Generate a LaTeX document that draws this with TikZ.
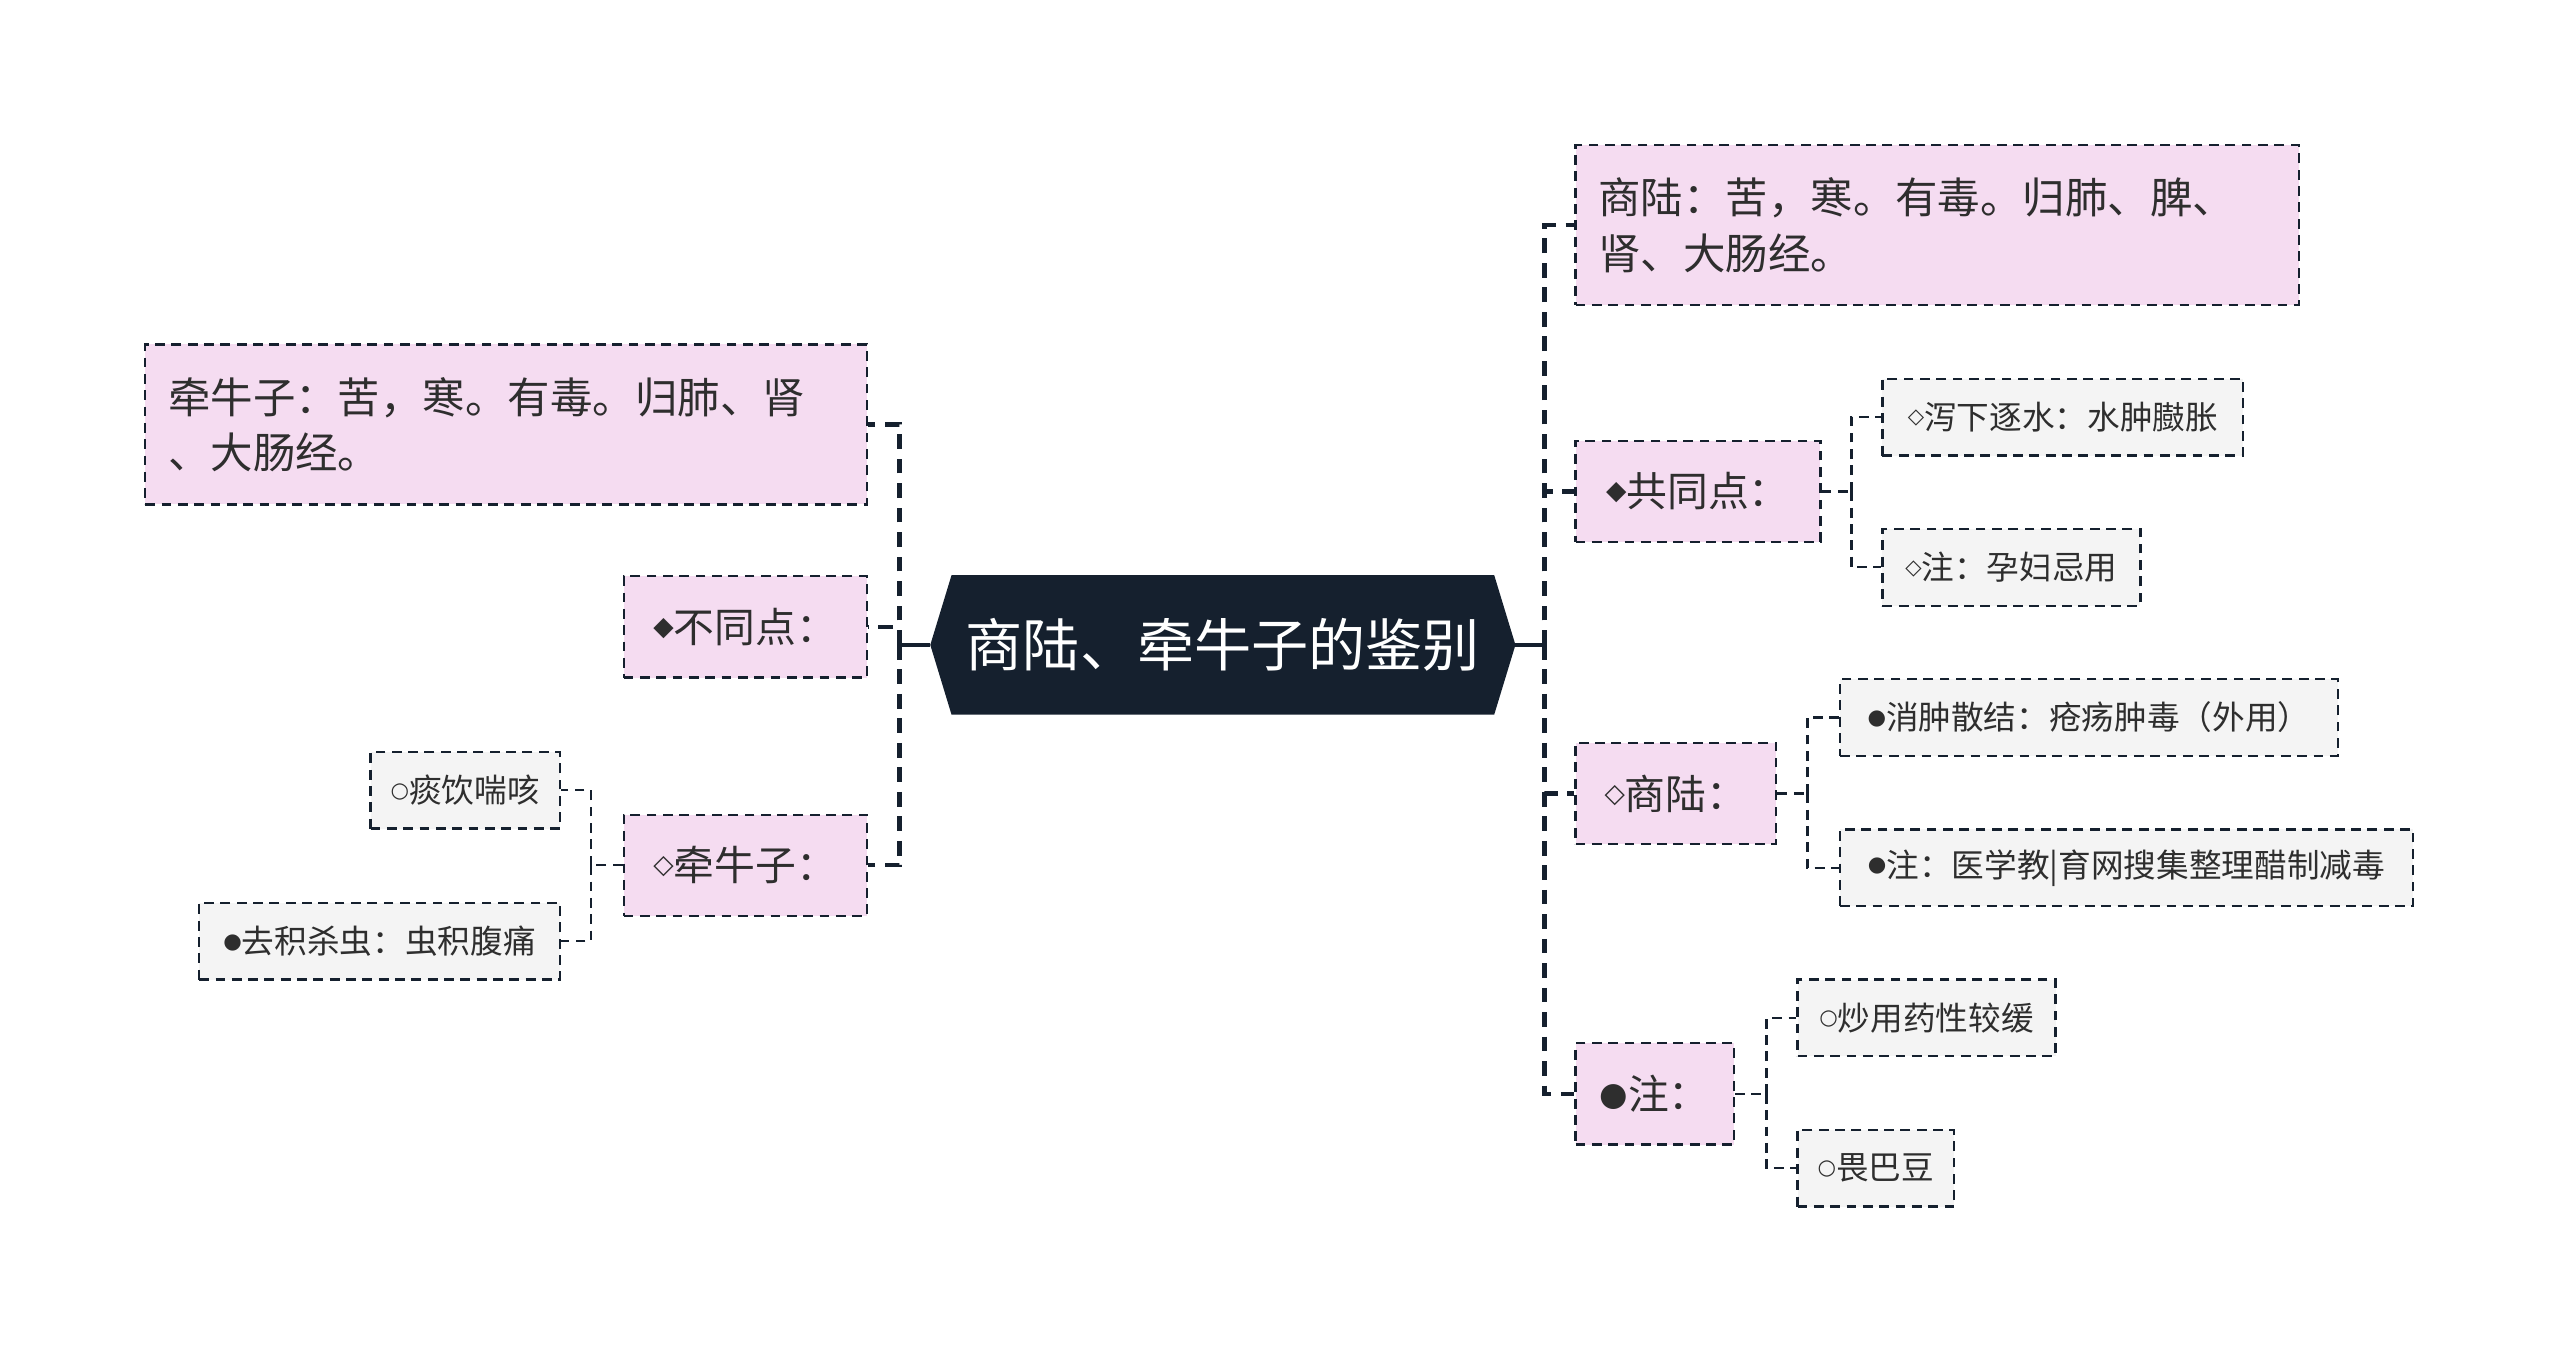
\documentclass[tikz,border=0pt]{standalone}
\usepackage{fontspec}
\usepackage{graphicx}
\setmainfont{Noto Sans CJK SC}
\newfontfamily\symf{DejaVu Sans}
\usetikzlibrary{backgrounds}
\definecolor{navy}{HTML}{15202E}
\definecolor{pinkf}{HTML}{F5DCF1}
\definecolor{grayf}{HTML}{F4F4F4}
\definecolor{txt}{HTML}{2E2E2E}
\newcommand\sy[3][0.65]{\raisebox{#2}{\symf\scalebox{#1}{#3}}}
\begin{document}
\begin{tikzpicture}[x=1pt,y=-1pt,
 box/.style={draw=navy, line width=1.4pt, dash pattern=on 6pt off 4pt, text=txt, inner sep=0pt, align=center},
 pinkbox/.style={box, fill=pinkf, minimum height=62pt, font=\fontsize{25}{30}\selectfont},
 bigbox/.style={box, fill=pinkf, minimum height=98pt, inner xsep=14pt, text width=414pt, align=left, font=\fontsize{26}{34}\selectfont},
 leaf/.style={box, fill=grayf, minimum height=47pt, font=\fontsize{20}{24}\selectfont},
 mainline/.style={draw=navy, line width=2.6pt, dash pattern=on 9pt off 6pt},
 subline/.style={draw=navy, line width=1.4pt, dash pattern=on 6pt off 4pt},
 rootline/.style={draw=navy, line width=2.6pt}]
\useasboundingbox (0,0) rectangle (1568,829);

% root
\node[minimum width=358pt, minimum height=85pt, inner sep=0pt, text=white,
      font=\fontsize{35}{42}\selectfont] (root) at (749,395) {商陆、牵牛子的鉴别};
\begin{scope}[on background layer]
\fill[navy] (root.west) -- ([xshift=13pt]root.north west) -- ([xshift=-13pt]root.north east)
  -- (root.east) -- ([xshift=-13pt]root.south east) -- ([xshift=13pt]root.south west) -- cycle;
\end{scope}

% left side
\node[bigbox] (A1) at (310,260) {牵牛子：苦，寒。有毒。归肺、肾\\、大肠经。};
\node[pinkbox, minimum width=149pt] (A2) at (456.5,384) {\sy{0.17em}{◆}不同点：};
\node[pinkbox, minimum width=149pt] (A3) at (456.5,530) {\sy{0.17em}{◇}牵牛子：};
\node[leaf, minimum width=116pt] (A31) at (285,484) {\sy{0.17em}{○}痰饮喘咳};
\node[leaf, minimum width=221pt] (A32) at (232.5,576.5) {\sy{0.17em}{●}去积杀虫：虫积腹痛};

% right side
\node[bigbox, text width=415pt] (B1) at (1186.5,138) {商陆：苦，寒。有毒。归肺、脾、\\肾、大肠经。};
\node[pinkbox, minimum width=150pt] (B2) at (1040,301) {\sy{0.17em}{◆}共同点：};
\node[leaf, minimum width=221pt] (B21) at (1263.5,255.5) {\sy{0.17em}{◇}泻下逐水：水肿臌胀};
\node[leaf, minimum width=158pt] (B22) at (1232,347.5) {\sy{0.17em}{◇}注：孕妇忌用};
\node[pinkbox, minimum width=123pt] (B3) at (1026.5,486) {\sy{0.17em}{◇}商陆：};
\node[leaf, minimum width=305pt] (B31) at (1279.5,439.5) {\sy{0.17em}{●}消肿散结：疮疡肿毒（外用）};
\node[leaf, minimum width=351pt] (B32) at (1302.5,531.5) {\sy{0.17em}{●}注：医学教|育网搜集整理醋制减毒};
\node[pinkbox, minimum width=97pt] (B4) at (1013.5,670) {\sy[0.8]{0.1em}{●}注：};
\node[leaf, minimum width=158pt] (B41) at (1180,623.5) {\sy{0.17em}{○}炒用药性较缓};
\node[leaf, minimum width=96pt] (B42) at (1149,715.5) {\sy{0.17em}{○}畏巴豆};

% trunks
\coordinate (LT) at (551,395);
\coordinate (RT) at (946,395);
\draw[rootline] (root.west) -- (LT);
\draw[rootline] (root.east) -- (RT);
\draw[mainline] (LT) |- (A1.east);
\draw[mainline] (LT) |- (A2.east);
\draw[mainline] (LT) |- (A3.east);
\draw[mainline] (RT) |- (B1.west);
\draw[mainline] (RT) |- (B2.west);
\draw[mainline] (RT) |- (B3.west);
\draw[mainline] (RT) |- (B4.west);

% sub trunks
\coordinate (A3s) at (362,530);
\draw[subline] (A3.west) -- (A3s);
\draw[subline] (A3s) |- (A31.east);
\draw[subline] (A3s) |- (A32.east);

\coordinate (B2s) at (1134,301);
\draw[subline] (B2.east) -- (B2s);
\draw[subline] (B2s) |- (B21.west);
\draw[subline] (B2s) |- (B22.west);

\coordinate (B3s) at (1107,486);
\draw[subline] (B3.east) -- (B3s);
\draw[subline] (B3s) |- (B31.west);
\draw[subline] (B3s) |- (B32.west);

\coordinate (B4s) at (1082,670);
\draw[subline] (B4.east) -- (B4s);
\draw[subline] (B4s) |- (B41.west);
\draw[subline] (B4s) |- (B42.west);
\end{tikzpicture}
\end{document}
